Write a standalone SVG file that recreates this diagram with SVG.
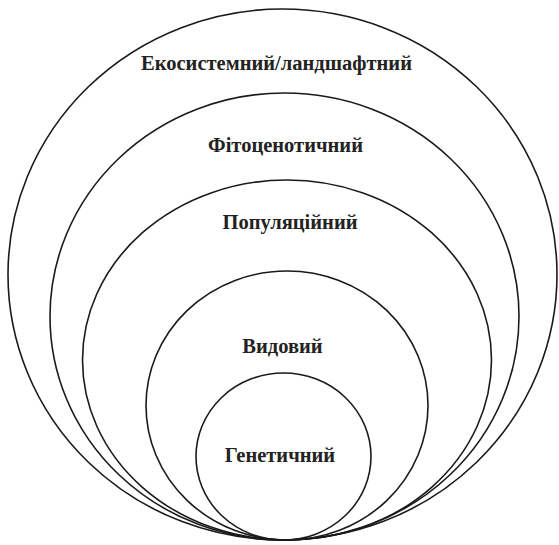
<svg xmlns="http://www.w3.org/2000/svg" width="559" height="545" viewBox="0 0 559 545">
<style>
.c{fill:none;stroke:#1a1a1a;stroke-width:1.6}
.t{font-family:"Liberation Serif","Times New Roman",serif;font-weight:bold;font-size:20.5px;fill:#222;text-anchor:middle}
</style>
<rect width="559" height="545" fill="#fff"/>
<g id="ecosystem"><ellipse class="c" cx="282.5" cy="274.5" rx="274.5" ry="265.5"/><text class="t" x="276.5" y="70">Екосистемний/ландшафтний</text></g>
<g id="phytocenotic"><ellipse class="c" cx="284.5" cy="316.5" rx="234.5" ry="223.5"/><text class="t" x="285.5" y="152">Фітоценотичний</text></g>
<g id="population"><ellipse class="c" cx="287" cy="360" rx="204.5" ry="180"/><text class="t" x="290" y="229">Популяційний</text></g>
<g id="species"><ellipse class="c" cx="287" cy="405.5" rx="141" ry="134.5"/><text class="t" x="282.5" y="353">Видовий</text></g>
<g id="genetic"><ellipse class="c" cx="283.5" cy="456.5" rx="87.5" ry="83.5"/><text class="t" x="280" y="462">Генетичний</text></g>
</svg>
